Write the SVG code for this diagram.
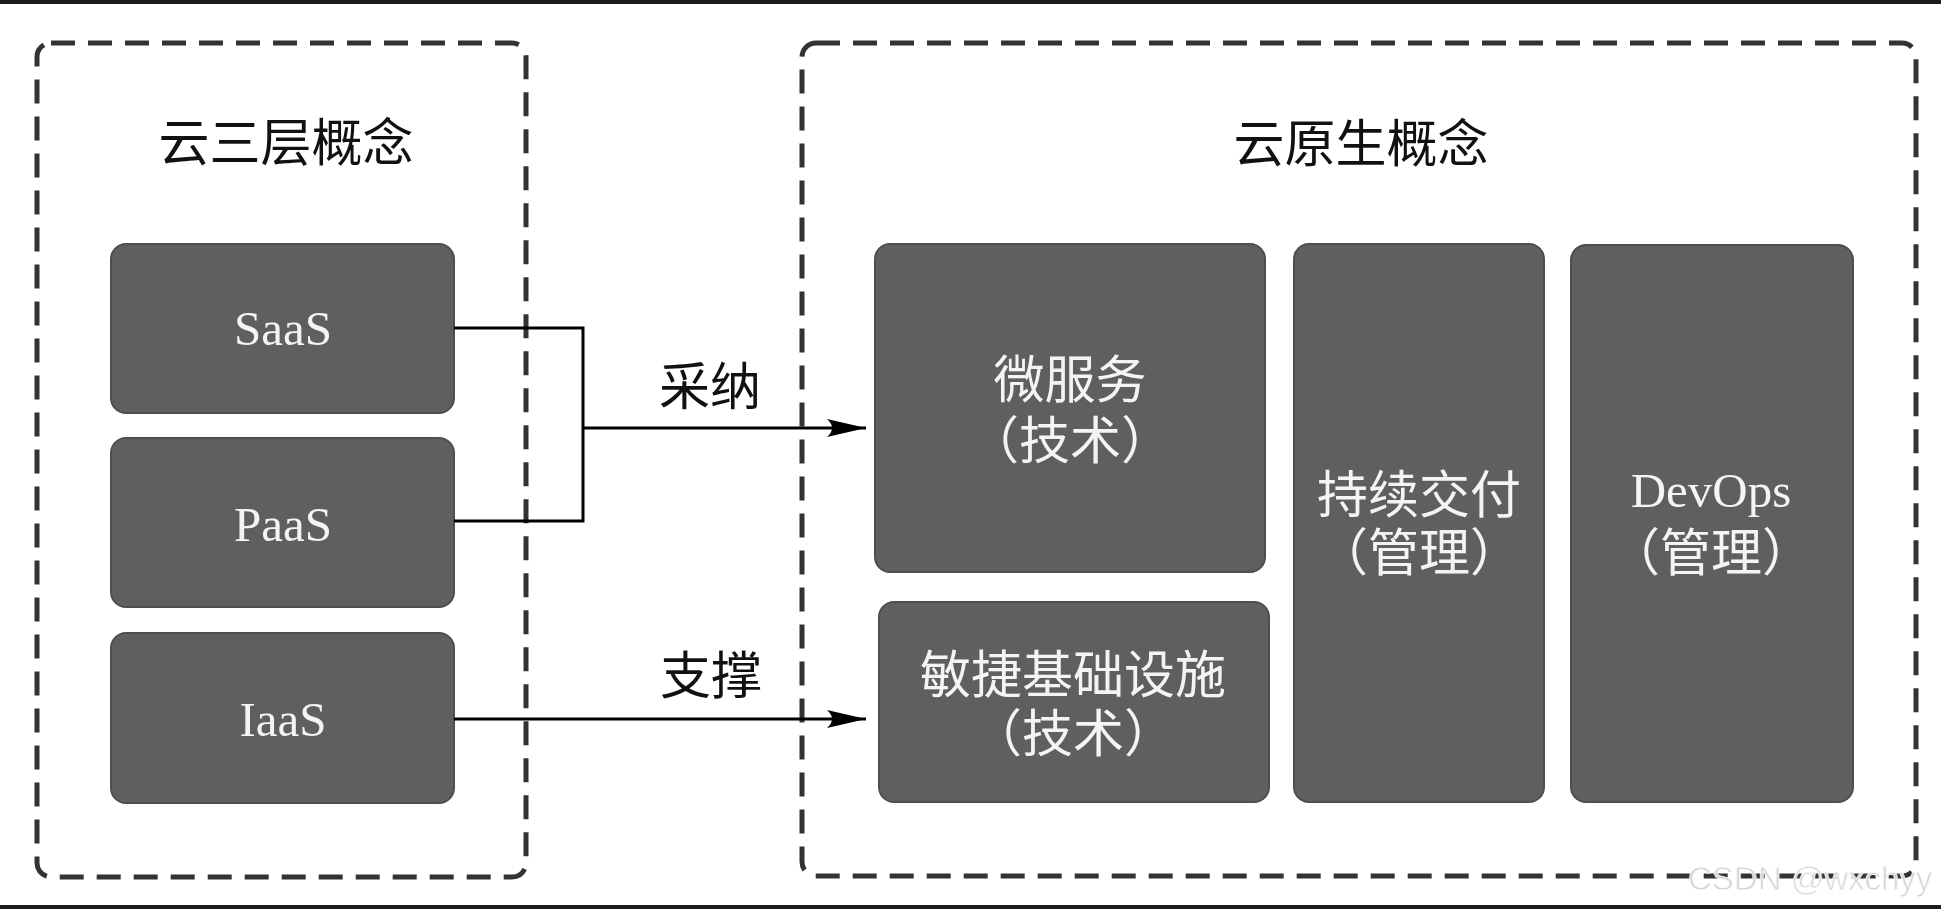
<svg xmlns="http://www.w3.org/2000/svg" width="1941" height="909" viewBox="0 0 1941 909">
<style>
.frame{fill:none;stroke:#333;stroke-width:5;stroke-dasharray:24 13}
.box{fill:#5f5f5f;stroke:#4e4e4e;stroke-width:2}
.cjk{font-family:"Noto Sans CJK SC","Noto Sans CJK JP",sans-serif;text-anchor:middle}
.lat{font-family:"Liberation Serif","DejaVu Serif",serif;text-anchor:middle}
.w{fill:#f4f4f4}
.k{fill:#111}
.conn{fill:none;stroke:#000;stroke-width:3}
</style>
<defs>
<marker id="arr" markerWidth="40" markerHeight="20" refX="39" refY="10" orient="auto" markerUnits="userSpaceOnUse">
<path d="M39,10 L0,1 Q10,10 0,19 Z" fill="#000"/>
</marker>
</defs>
<rect x="0" y="0" width="1941" height="909" fill="#fff"/>
<rect x="0" y="0" width="1941" height="4" fill="#1c1c1c"/>
<rect x="0" y="905" width="1941" height="4" fill="#1c1c1c"/>

<g id="cloud-three-layer">
<rect class="frame" x="37" y="43" width="489" height="834" rx="14"/>
<text class="cjk k" x="286" y="161" font-size="51">云三层概念</text>
</g>
<g id="cloud-native">
<rect class="frame" x="802" y="43" width="1114" height="833" rx="14"/>
<text class="cjk k" x="1361" y="162" font-size="51">云原生概念</text>
</g>

<g id="saas">
<rect class="box" x="111" y="244" width="343" height="169" rx="15"/>
<text class="lat w" x="283" y="345" font-size="49">SaaS</text>
</g>
<g id="paas">
<rect class="box" x="111" y="438" width="343" height="169" rx="15"/>
<text class="lat w" x="283" y="541" font-size="49">PaaS</text>
</g>
<g id="iaas">
<rect class="box" x="111" y="633" width="343" height="170" rx="15"/>
<text class="lat w" x="283" y="736" font-size="49">IaaS</text>
</g>

<g id="microservices">
<rect class="box" x="875" y="244" width="390" height="328" rx="15"/>
<text class="cjk w" font-size="51"><tspan x="1070" y="398">微服务</tspan><tspan x="1070" y="459">（技术）</tspan></text>
</g>
<g id="agile-infra">
<rect class="box" x="879" y="602" width="390" height="200" rx="15"/>
<text class="cjk w" font-size="51"><tspan x="1073" y="693">敏捷基础设施</tspan><tspan x="1073" y="752">（技术）</tspan></text>
</g>
<g id="continuous-delivery">
<rect class="box" x="1294" y="244" width="250" height="558" rx="15"/>
<text class="cjk w" font-size="51"><tspan x="1419" y="513">持续交付</tspan><tspan x="1419" y="571">（管理）</tspan></text>
</g>
<g id="devops">
<rect class="box" x="1571" y="245" width="282" height="557" rx="15"/>
<text class="w" text-anchor="middle"><tspan class="lat" x="1711" y="507" font-size="49">DevOps</tspan><tspan class="cjk" x="1711" y="571" font-size="51">（管理）</tspan></text>
</g>

<g id="connectors">
<path class="conn" d="M454,328 H583 V521 H454"/>
<path class="conn" d="M583,428 H866" marker-end="url(#arr)"/>
<path class="conn" d="M454,719 H866" marker-end="url(#arr)"/>
<text class="cjk k" x="710" y="405" font-size="51">采纳</text>
<text class="cjk k" x="711" y="694" font-size="51">支撑</text>
</g>

<text x="1688" y="890" font-family="Liberation Sans, Arial, sans-serif" font-size="33" fill="#d4d4d4" stroke="#fff" stroke-width="0.8">CSDN @wxchyy</text>
</svg>
